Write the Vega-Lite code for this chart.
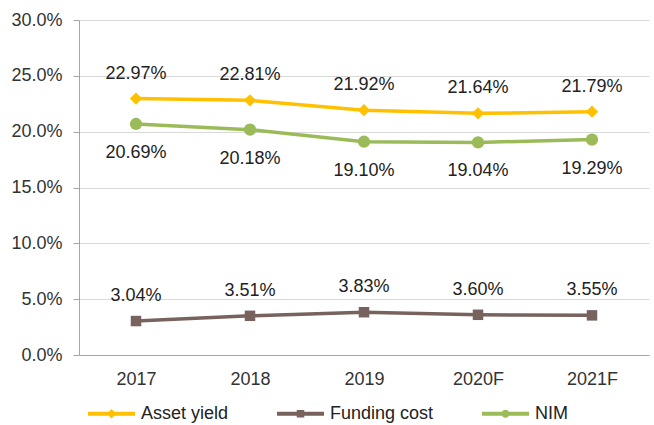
{
  "$schema": "https://vega.github.io/schema/vega-lite/v6.json",
  "width": 570,
  "height": 335,
  "autosize": {"type": "none"},
  "padding": {"left": 79, "top": 20, "right": 5, "bottom": 70},
  "background": "white",
  "config": {
    "font": "Liberation Sans",
    "view": {"stroke": null},
    "axis": {"labelFont": "Liberation Sans", "labelFontSize": 18, "labelColor": "#333333", "title": null}
  },
  "data": {
    "values": [
      {"year": "2017", "series": "Asset yield", "value": 0.2297},
      {"year": "2018", "series": "Asset yield", "value": 0.2281},
      {"year": "2019", "series": "Asset yield", "value": 0.2192},
      {"year": "2020F", "series": "Asset yield", "value": 0.2164},
      {"year": "2021F", "series": "Asset yield", "value": 0.2179},
      {"year": "2017", "series": "Funding cost", "value": 0.0304},
      {"year": "2018", "series": "Funding cost", "value": 0.0351},
      {"year": "2019", "series": "Funding cost", "value": 0.0383},
      {"year": "2020F", "series": "Funding cost", "value": 0.0360},
      {"year": "2021F", "series": "Funding cost", "value": 0.0355},
      {"year": "2017", "series": "NIM", "value": 0.2069},
      {"year": "2018", "series": "NIM", "value": 0.2018},
      {"year": "2019", "series": "NIM", "value": 0.1910},
      {"year": "2020F", "series": "NIM", "value": 0.1904},
      {"year": "2021F", "series": "NIM", "value": 0.1929}
    ]
  },
  "encoding": {
    "x": {
      "field": "year", "type": "ordinal",
      "scale": {"type": "point", "padding": 0.5},
      "axis": {"labelAngle": 0, "ticks": false, "domain": true, "domainColor": "#A6A6A6", "labelPadding": 15, "grid": false}
    },
    "y": {
      "field": "value", "type": "quantitative",
      "scale": {"domain": [0, 0.3], "nice": false},
      "axis": {"format": ".1%", "values": [0, 0.05, 0.1, 0.15, 0.2, 0.25, 0.3], "gridColor": "#D9D9D9", "gridWidth": 1, "domainColor": "#A6A6A6", "tickColor": "#A6A6A6", "tickSize": 6, "labelPadding": 11}
    }
  },
  "layer": [
    {
      "mark": {"type": "line", "strokeWidth": 3.5},
      "encoding": {
        "color": {
          "field": "series", "type": "nominal",
          "scale": {"domain": ["Asset yield", "Funding cost", "NIM"], "range": ["#FFC000", "#77625E", "#9BBB59"]},
          "legend": {
            "orient": "none", "legendX": 9, "legendY": 370, "direction": "horizontal", "title": null,
            "labelFontSize": 18, "labelColor": "#222222", "labelFont": "Liberation Sans",
            "symbolSize": 2209, "symbolStrokeWidth": 0, "columnPadding": 48, "labelOffset": 6,
            "encode": {
              "symbols": {
                "update": {
                  "shape": {"signal": "datum.value === 'Asset yield' ? 'M-1,-0.085H1V0.085H-1Z M0,-0.2L0.2,0L0,0.2L-0.2,0Z' : datum.value === 'Funding cost' ? 'M-1,-0.085H1V0.085H-1Z M-0.16,-0.16H0.16V0.16H-0.16Z' : 'M-1,-0.085H1V0.085H-1Z M-0.17,0A0.17,0.17 0 1,1 0.17,0A0.17,0.17 0 1,1 -0.17,0Z'"},
                  "fillOpacity": {"value": 1},
                  "strokeWidth": {"value": 0}
                }
              }
            }
          }
        }
      }
    },
    {
      "mark": {"type": "point", "filled": true, "opacity": 1},
      "encoding": {
        "color": {"field": "series", "type": "nominal", "legend": null},
        "shape": {
          "condition": [
            {"test": "datum.series === 'Asset yield'", "value": "diamond"},
            {"test": "datum.series === 'Funding cost'", "value": "square"}
          ],
          "value": "circle"
        },
        "size": {
          "condition": [
            {"test": "datum.series === 'Funding cost'", "value": 110}
          ],
          "value": 150
        }
      }
    },
    {
      "transform": [{"filter": "datum.series === 'Asset yield'"}],
      "mark": {"type": "text", "dy": -25, "fontSize": 18, "color": "#222222"},
      "encoding": {"text": {"field": "value", "type": "quantitative", "format": ".2%"}}
    },
    {
      "transform": [{"filter": "datum.series === 'Funding cost'"}],
      "mark": {"type": "text", "dy": -25, "fontSize": 18, "color": "#222222"},
      "encoding": {"text": {"field": "value", "type": "quantitative", "format": ".2%"}}
    },
    {
      "transform": [{"filter": "datum.series === 'NIM'"}],
      "mark": {"type": "text", "dy": 29, "fontSize": 18, "color": "#222222"},
      "encoding": {"text": {"field": "value", "type": "quantitative", "format": ".2%"}}
    }
  ]
}
